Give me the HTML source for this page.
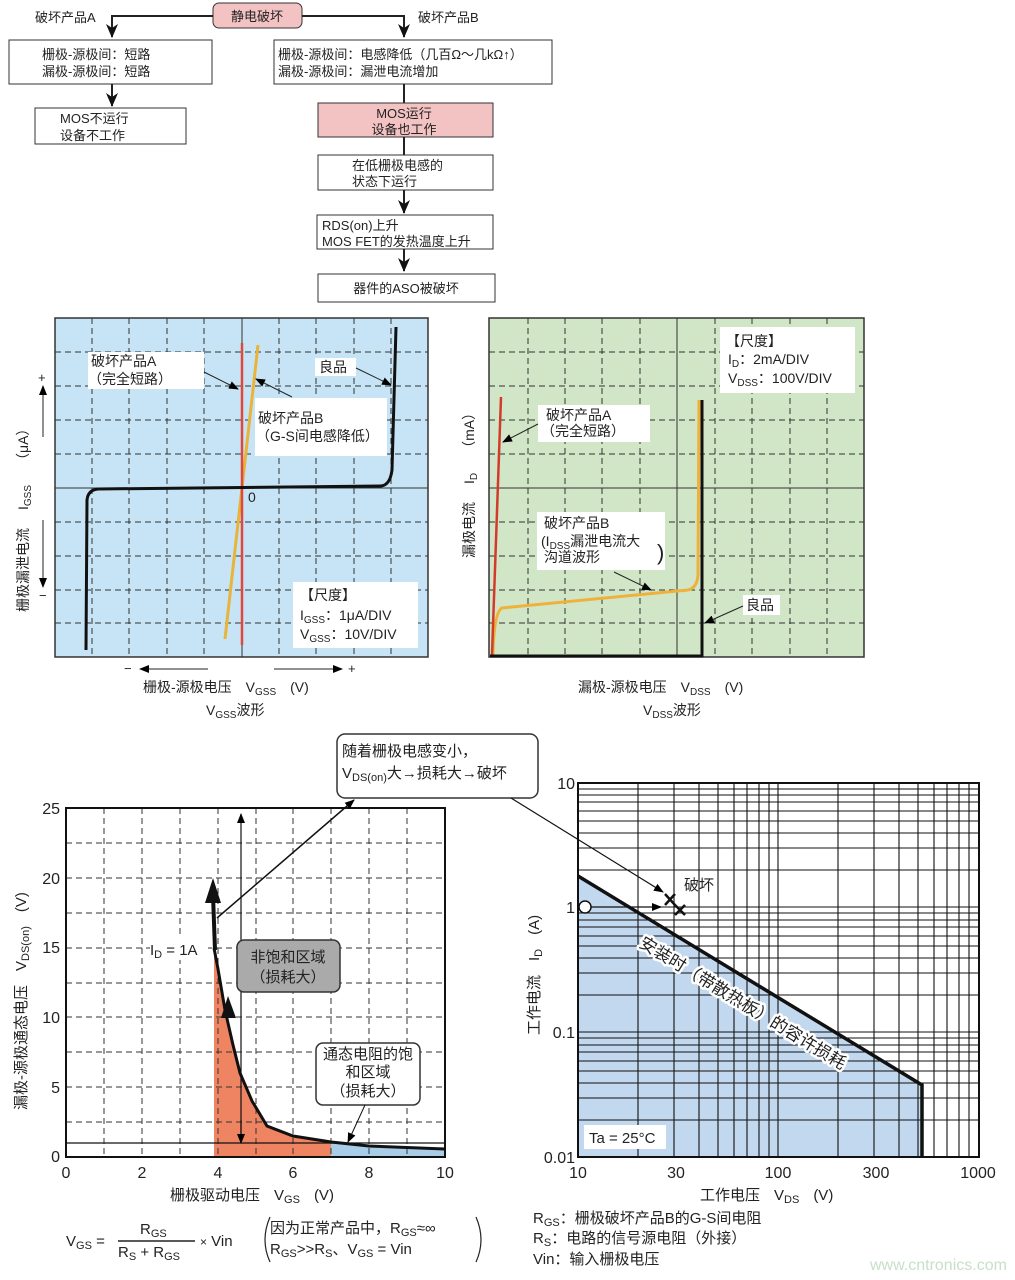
<!DOCTYPE html>
<html><head><meta charset="utf-8"><style>
html,body{margin:0;padding:0;background:#fff;}
svg{display:block;font-family:"Liberation Sans","Noto Sans CJK SC",sans-serif;}
</style></head><body>
<svg width="1015" height="1280" viewBox="0 0 1015 1280" xmlns="http://www.w3.org/2000/svg">
<defs>
<marker id="ah" markerWidth="10" markerHeight="10" refX="9" refY="5" orient="auto" markerUnits="userSpaceOnUse"><path d="M0,1 L10,5 L0,9 Z" fill="#000"/></marker>
<marker id="ab" markerWidth="14" markerHeight="14" refX="13" refY="7" orient="auto" markerUnits="userSpaceOnUse"><path d="M0,1 L14,7 L0,13 L4,7 Z" fill="#111"/></marker>
</defs>
<g font-size="13" fill="#222">
<rect x="213" y="3" width="89" height="25" rx="6" fill="#f3c3c3" stroke="#333"/>
<text x="257" y="21" text-anchor="middle">静电破坏</text>
<path d="M213 16 H112 V37" fill="none" stroke="#222" stroke-width="2" marker-end="url(#ab)"/>
<path d="M302 16 H404 V37" fill="none" stroke="#222" stroke-width="2" marker-end="url(#ab)"/>
<text x="35" y="22">破坏产品A</text>
<text x="418" y="22">破坏产品B</text>
<rect x="9" y="40" width="203" height="44" fill="#fff" stroke="#333"/>
<text x="42" y="59">栅极-源极间：短路</text><text x="42" y="76">漏极-源极间：短路</text>
<path d="M112 84 V106" stroke="#222" stroke-width="2" marker-end="url(#ab)"/>
<rect x="35" y="108" width="151" height="36" fill="#fff" stroke="#333"/>
<text x="60" y="123">MOS不运行</text><text x="60" y="140">设备不工作</text>
<rect x="274" y="40" width="278" height="44" fill="#fff" stroke="#333"/>
<text x="278" y="59">栅极-源极间：电感降低（几百Ω～几kΩ↑）</text><text x="278" y="76">漏极-源极间：漏泄电流增加</text>
<path d="M404 84 V103" stroke="#222" stroke-width="2"/>
<rect x="318" y="103" width="175" height="34" fill="#f3c3c3" stroke="#333"/>
<text x="404" y="118" text-anchor="middle">MOS运行</text><text x="404" y="134" text-anchor="middle">设备也工作</text>
<path d="M404 137 V155" stroke="#222" stroke-width="2"/>
<rect x="318" y="155" width="175" height="35" fill="#fff" stroke="#333"/>
<text x="352" y="170">在低栅极电感的</text><text x="352" y="186">状态下运行</text>
<path d="M404 190 V213" stroke="#222" stroke-width="2" marker-end="url(#ab)"/>
<rect x="317" y="215" width="176" height="34" fill="#fff" stroke="#333"/>
<text x="322" y="230">RDS(on)上升</text><text x="322" y="246">MOS FET的发热温度上升</text>
<path d="M404 249 V271" stroke="#222" stroke-width="2" marker-end="url(#ab)"/>
<rect x="318" y="274" width="177" height="28" fill="#fff" stroke="#333"/>
<text x="406" y="293" text-anchor="middle">器件的ASO被破坏</text>
</g>

<!-- Plot 1 -->
<g>
<rect x="55" y="318" width="373" height="339" fill="#c6e4f6" stroke="#333" stroke-width="1.5"/>
<g stroke="#333" stroke-dasharray="6,4" stroke-width="1">
<path d="M92 318V657M129 318V657M167 318V657M204 318V657M279 318V657M316 318V657M354 318V657M391 318V657"/>
<path d="M55 352H428M55 386H428M55 420H428M55 454H428M55 522H428M55 556H428M55 590H428M55 623H428"/>
</g>
<path d="M242 318V657M55 488H428" stroke="#333" stroke-width="1"/>
<rect x="88" y="352" width="116" height="37" fill="#fff"/>
<rect x="315" y="358" width="41" height="18" fill="#fff"/>
<rect x="255" y="398" width="132" height="58" fill="#fff"/>
<rect x="293" y="582" width="125" height="66" fill="#fff"/>
<path d="M225 639 L258 345" stroke="#e8b43a" stroke-width="3"/>
<path d="M242 343 V645" stroke="#e0483c" stroke-width="2.5"/>
<path d="M86 650 L87 500 Q88 490 98 489 L380 486 Q390 486 392 470 L396 327" fill="none" stroke="#111" stroke-width="3"/>
<g font-size="14" fill="#222">
<text x="91" y="366">破坏产品A</text><text x="88" y="384">（完全短路）</text>
<text x="319" y="372">良品</text>
<text x="258" y="423">破坏产品B</text><text x="256" y="441">（G-S间电感降低）</text>
<text x="248" y="502">0</text>
<text x="300" y="600">【尺度】</text>
<text x="300" y="620">I<tspan font-size="10" dy="3">GSS</tspan><tspan dy="-3">：1μA/DIV</tspan></text>
<text x="300" y="639">V<tspan font-size="10" dy="3">GSS</tspan><tspan dy="-3">：10V/DIV</tspan></text>
</g>
<path d="M204 372 L238 389" stroke="#222" marker-end="url(#ah)"/>
<path d="M292 397 L256 379" stroke="#222" marker-end="url(#ah)"/>
<path d="M356 368 L391 385" stroke="#222" marker-end="url(#ah)"/>
<g font-size="14" fill="#222">
<path d="M43 437 V386" stroke="#222" marker-end="url(#ah)"/><text x="38" y="382" font-size="13">+</text>
<path d="M43 520 V587" stroke="#222" marker-end="url(#ah)"/><text x="39" y="600" font-size="13">−</text>
<text transform="translate(28,612) rotate(-90)">栅极漏泄电流<tspan dx="18">I</tspan><tspan font-size="10" dy="3">GSS</tspan><tspan dx="18" dy="-3">（μA）</tspan></text>
<text x="124" y="673" font-size="13">−</text><path d="M208 669 H140" stroke="#222" marker-end="url(#ah)"/>
<path d="M274 669 H342" stroke="#222" marker-end="url(#ah)"/><text x="348" y="673" font-size="13">+</text>
<text x="143" y="692">栅极-源极电压<tspan dx="14">V</tspan><tspan font-size="10" dy="3">GSS</tspan><tspan dx="14" dy="-3">(V)</tspan></text>
<text x="206" y="715">V<tspan font-size="10" dy="3">GSS</tspan><tspan dy="-3">波形</tspan></text>
</g>
</g>

<!-- Plot 2 -->
<g>
<rect x="489" y="318" width="375" height="339" fill="#d1e6c6" stroke="#333" stroke-width="1.5"/>
<g stroke="#333" stroke-dasharray="6,4" stroke-width="1">
<path d="M528 318V657M565 318V657M602 318V657M640 318V657M715 318V657M752 318V657M790 318V657M827 318V657"/>
<path d="M489 352H864M489 386H864M489 420H864M489 454H864M489 522H864M489 556H864M489 590H864M489 623H864"/>
</g>
<path d="M677 318V657M489 488H864" stroke="#333" stroke-width="1"/>
<rect x="720" y="327" width="135" height="66" fill="#fff"/>
<rect x="538" y="405" width="112" height="37" fill="#fff"/>
<rect x="537" y="512" width="128" height="58" fill="#fff"/>
<rect x="743" y="595" width="37" height="20" fill="#fff"/>
<path d="M493 655 Q494 612 502 608 L688 590 Q697 588 698 575 L699 400" fill="none" stroke="#eeb23c" stroke-width="3"/>
<path d="M492 655 L501 397" stroke="#d23b2c" stroke-width="2.5"/>
<path d="M490 656 H702 V400" fill="none" stroke="#111" stroke-width="3"/>
<g font-size="14" fill="#222">
<text x="726" y="346">【尺度】</text>
<text x="728" y="364">I<tspan font-size="10" dy="3">D</tspan><tspan dy="-3">：2mA/DIV</tspan></text>
<text x="728" y="383">V<tspan font-size="10" dy="3">DSS</tspan><tspan dy="-3">：100V/DIV</tspan></text>
<text x="546" y="420">破坏产品A</text><text x="541" y="436">（完全短路）</text>
<text x="544" y="528">破坏产品B</text>
<text x="541" y="546">(I<tspan font-size="10" dy="3">DSS</tspan><tspan dy="-3">漏泄电流大</tspan></text>
<text x="544" y="562">沟道波形</text><text x="657" y="560" font-size="22">)</text>
<text x="746" y="610">良品</text>
<text transform="translate(474,558) rotate(-90)">漏极电流<tspan dx="18">I</tspan><tspan font-size="10" dy="3">D</tspan><tspan dx="18" dy="-3">（mA）</tspan></text>
<text x="578" y="692">漏极-源极电压<tspan dx="14">V</tspan><tspan font-size="10" dy="3">DSS</tspan><tspan dx="14" dy="-3">(V)</tspan></text>
<text x="643" y="715">V<tspan font-size="10" dy="3">DSS</tspan><tspan dy="-3">波形</tspan></text>
</g>
<path d="M538 424 L503 442" stroke="#222" marker-end="url(#ah)"/>
<path d="M614 572 L651 590" stroke="#222" marker-end="url(#ah)"/>
<path d="M743 606 L705 623" stroke="#222" marker-end="url(#ah)"/>
</g>

<!-- Plot 3 -->
<g>
<rect x="66" y="808" width="379" height="349" fill="#fff"/>
<path d="M214 1157 L214 948 L218 969 L225 1010 L233 1045 L240 1073 L252 1101 L267 1126 L293 1136 L331 1142 L331 1157 Z" fill="#ef8462"/>
<path d="M331 1157 L331 1142 L369 1146 L445 1149 L445 1157 Z" fill="#a8cde9"/>
<g stroke="#333" stroke-dasharray="6,4" stroke-width="1">
<path d="M104 808V1157M142 808V1157M180 808V1157M218 808V1157M256 808V1157M293 808V1157M331 808V1157M369 808V1157M407 808V1157"/>
<path d="M66 843H445M66 878H445M66 913H445M66 948H445M66 983H445M66 1017H445M66 1052H445M66 1087H445M66 1122H445"/>
</g>
<path d="M66 1143H445" stroke="#111" stroke-width="1.2"/>
<rect x="66" y="808" width="379" height="349" fill="none" stroke="#111" stroke-width="2"/>
<path d="M214 948 L218 969 L225 1010 L233 1045 L240 1073 L252 1101 L267 1126 L293 1136 L331 1142 L369 1146 L445 1149" fill="none" stroke="#111" stroke-width="3"/>
<path d="M215 950 L213 895" stroke="#111" stroke-width="4"/>
<path d="M213 878 L205 903 L221 903 Z" fill="#111"/>
<path d="M228 996 L221 1018 L236 1018 Z" fill="#111"/>
<path d="M241 1140 V814" stroke="#111" stroke-width="1.2" marker-end="url(#ah)"/>
<path d="M241 1120 V1143" stroke="#111" stroke-width="1.2" marker-end="url(#ah)"/>
<path d="M217 918 L354 800" stroke="#111" stroke-width="1.5" marker-end="url(#ah)"/>
<rect x="150" y="938" width="58" height="22" fill="#fff"/>
<rect x="237" y="940" width="103" height="52" rx="7" fill="#aaa" stroke="#333" stroke-width="1.5"/>
<rect x="316" y="1043" width="104" height="62" rx="7" fill="#fff" stroke="#333" stroke-width="1.5"/>
<path d="M365 1105 L348 1142" stroke="#111" marker-end="url(#ah)"/>
<rect x="337" y="734" width="201" height="64" rx="8" fill="#fff" stroke="#333" stroke-width="1.5"/>
<g font-size="15" fill="#222">
<text x="342" y="756">随着栅极电感变小，</text>
<text x="342" y="778">V<tspan font-size="11" dy="3">DS(on)</tspan><tspan dy="-3">大→损耗大→破坏</tspan></text>
<text x="150" y="955">I<tspan font-size="11" dy="3">D</tspan><tspan dy="-3"> = 1A</tspan></text>
<text x="288" y="962" text-anchor="middle">非饱和区域</text><text x="288" y="982" text-anchor="middle">（损耗大）</text>
<text x="368" y="1059" text-anchor="middle">通态电阻的饱</text><text x="368" y="1077" text-anchor="middle">和区域</text><text x="368" y="1096" text-anchor="middle">（损耗大）</text>
<g font-size="16" text-anchor="end"><text x="60" y="814">25</text><text x="60" y="884">20</text><text x="60" y="953">15</text><text x="60" y="1023">10</text><text x="60" y="1093">5</text><text x="60" y="1162">0</text></g>
<g font-size="16" text-anchor="middle"><text x="66" y="1178">0</text><text x="142" y="1178">2</text><text x="218" y="1178">4</text><text x="293" y="1178">6</text><text x="369" y="1178">8</text><text x="445" y="1178">10</text></g>
<text x="170" y="1200">栅极驱动电压<tspan dx="14">V</tspan><tspan font-size="11" dy="3">GS</tspan><tspan dx="14" dy="-3">(V)</tspan></text>
<text transform="translate(26,1110) rotate(-90)">漏极-源极通态电压<tspan dx="14">V</tspan><tspan font-size="11" dy="3">DS(on)</tspan><tspan dx="14" dy="-3">(V)</tspan></text>
<text x="66" y="1246">V<tspan font-size="11" dy="3">GS</tspan><tspan dy="-3"> =</tspan></text>
<text x="140" y="1234">R<tspan font-size="11" dy="3">GS</tspan></text>
<path d="M118 1241 H195" stroke="#222" stroke-width="1.5"/>
<text x="118" y="1257">R<tspan font-size="11" dy="3">S</tspan><tspan dy="-3"> + R</tspan><tspan font-size="11" dy="3">GS</tspan></text>
<text x="200" y="1246"><tspan font-size="12">×</tspan> Vin</text>
<text x="270" y="1233">因为正常产品中，R<tspan font-size="11" dy="3">GS</tspan><tspan dy="-3">≈∞</tspan></text>
<text x="270" y="1254">R<tspan font-size="11" dy="3">GS</tspan><tspan dy="-3">&gt;&gt;R</tspan><tspan font-size="11" dy="3">S</tspan><tspan dy="-3">、V</tspan><tspan font-size="11" dy="3">GS</tspan><tspan dy="-3"> = Vin</tspan></text>
</g>
<path d="M270 1217 Q260 1240 270 1262 M476 1217 Q486 1240 476 1262" fill="none" stroke="#222" stroke-width="1.2"/>
</g>

<!-- Plot 4 -->
<g>
<rect x="578" y="783" width="401" height="374" fill="#fff"/>
<path d="M578 1157 L578 876 L922 1085 L922 1157 Z" fill="#c2d8ee"/>
<g stroke="#111" stroke-width="1.1">
<path d="M638 783V1157M674 783V1157M699 783V1157M718 783V1157M734 783V1157M747 783V1157M759 783V1157M769 783V1157M778 783V1157M838 783V1157M874 783V1157M899 783V1157M918 783V1157M934 783V1157M947 783V1157M959 783V1157M969 783V1157"/>
<path d="M578 1120H979M578 1098H979M578 1083H979M578 1071H979M578 1061H979M578 1052H979M578 1045H979M578 1038H979M578 1032H979M578 995H979M578 973H979M578 958H979M578 946H979M578 936H979M578 927H979M578 920H979M578 913H979M578 907H979M578 870H979M578 848H979M578 833H979M578 821H979M578 811H979M578 802H979M578 795H979M578 789H979"/>
</g>
<rect x="578" y="783" width="401" height="374" fill="none" stroke="#111" stroke-width="2"/>
<text transform="translate(638,946) rotate(31.3)" font-size="17" fill="#222" stroke="#fff" stroke-width="5" paint-order="stroke" stroke-linejoin="round">安装时（带散热板）的容许损耗</text>
<path d="M578 876 L922 1085 L922 1157" fill="none" stroke="#111" stroke-width="3.5"/>
<rect x="584" y="1125" width="82" height="24" fill="#fff"/>
<circle cx="585" cy="907" r="6" fill="#fff" stroke="#111" stroke-width="1.5"/>
<path d="M591 907 H661" stroke="#111" stroke-width="1.2" marker-end="url(#ah)"/>
<path d="M511 798 L663 892" stroke="#111" stroke-width="1.2" marker-end="url(#ah)"/>
<path d="M665 894 L675 905 M675 894 L665 905 M675 905 L685 915 M685 905 L675 915" stroke="#111" stroke-width="2.5"/>
<g font-size="15" fill="#222">
<text x="684" y="890">破坏</text>
<text x="589" y="1143">Ta = 25°C</text>
<g font-size="16" text-anchor="end"><text x="575" y="789">10</text><text x="575" y="913">1</text><text x="575" y="1038">0.1</text><text x="575" y="1163">0.01</text></g>
<g font-size="16" text-anchor="middle"><text x="578" y="1178">10</text><text x="676" y="1178">30</text><text x="778" y="1178">100</text><text x="876" y="1178">300</text><text x="978" y="1178">1000</text></g>
<text x="700" y="1200">工作电压<tspan dx="14">V</tspan><tspan font-size="11" dy="3">DS</tspan><tspan dx="14" dy="-3">(V)</tspan></text>
<text transform="translate(539,1035) rotate(-90)">工作电流<tspan dx="14">I</tspan><tspan font-size="11" dy="3">D</tspan><tspan dx="14" dy="-3">(A)</tspan></text>
<text x="533" y="1223">R<tspan font-size="11" dy="3">GS</tspan><tspan dy="-3">：栅极破坏产品B的G-S间电阻</tspan></text>
<text x="533" y="1243">R<tspan font-size="11" dy="3">S</tspan><tspan dy="-3">：电路的信号源电阻（外接）</tspan></text>
<text x="533" y="1264">Vin：输入栅极电压</text>
</g>
<text x="870" y="1270" font-size="16" fill="#c8dfc8">www.cntronics.com</text>
</g>
</svg>
</body></html>
